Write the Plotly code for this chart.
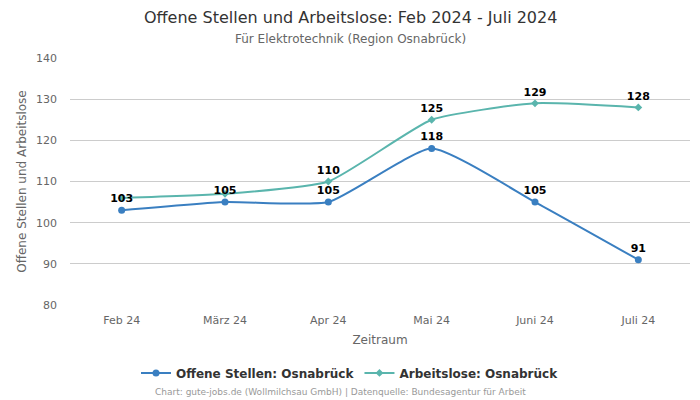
import plotly.graph_objects as go

categories = ["Feb 24", "März 24", "Apr 24", "Mai 24", "Juni 24", "Juli 24"]
offene_stellen = [103, 105, 105, 118, 105, 91]
arbeitslose = [106, 107, 110, 125, 129, 128]
offene_labels = ["103", "105", "105", "118", "105", "91"]
arbeitslose_labels = ["", "", "110", "125", "129", "128"]

# The page body has an 8px margin; figure is sized/positioned to compensate.
fig = go.Figure()
fig.add_trace(go.Scatter(
    x=categories, y=arbeitslose, name="Arbeitslose: Osnabrück",
    mode="lines+markers+text", text=arbeitslose_labels, textposition="top center",
    textfont=dict(family="DejaVu Sans", size=11, color="#000000", weight="bold"),
    line=dict(color="#5ab5ad", width=2, shape="spline", smoothing=0.5),
    marker=dict(symbol="diamond", size=6, color="#5ab5ad"),
    cliponaxis=False,
))
fig.add_trace(go.Scatter(
    x=categories, y=offene_stellen, name="Offene Stellen: Osnabrück",
    mode="lines+markers+text", text=offene_labels, textposition="top center",
    textfont=dict(family="DejaVu Sans", size=11, color="#000000", weight="bold"),
    line=dict(color="#3a7fc1", width=2, shape="spline", smoothing=0.5),
    marker=dict(symbol="circle", size=7, color="#3a7fc1"),
    cliponaxis=False,
))

cx = (350 - 70) / 620

fig.update_layout(
    width=692, height=392,
    margin=dict(l=62, r=10, t=50, b=95),
    paper_bgcolor="white", plot_bgcolor="white",
    font=dict(family="DejaVu Sans", color="#666666"),
    xaxis=dict(
        title=dict(text="Zeitraum", font=dict(size=12, color="#666666"), standoff=9),
        range=[-0.5, 5.5], automargin=False,
        showgrid=False, showline=False, ticks="",
        tickfont=dict(size=11, color="#666666"), ticklabelstandoff=7,
    ),
    yaxis=dict(
        title=dict(text="Offene Stellen und Arbeitslose", font=dict(size=12, color="#666666"), standoff=6),
        range=[80, 140], dtick=10, showgrid=True, gridcolor="#cccccc",
        automargin=False,
        zeroline=False, tickfont=dict(size=11, color="#666666"), ticks="", ticklabelstandoff=12,
    ),
    legend=dict(
        orientation="h", x=cx, xanchor="center", y=-0.275, yanchor="middle",
        font=dict(size=12, color="#333333", weight="bold"),
        traceorder="reversed",
    ),
    annotations=[
        dict(text="Offene Stellen und Arbeitslose: Feb 2024 - Juli 2024",
             xref="paper", yref="paper", x=cx, y=(305 - 17) / 247, xanchor="center", yanchor="middle",
             showarrow=False, font=dict(size=16, color="#333333")),
        dict(text="Für Elektrotechnik (Region Osnabrück)",
             xref="paper", yref="paper", x=cx, y=(305 - 39) / 247, xanchor="center", yanchor="middle",
             showarrow=False, font=dict(size=12, color="#666666")),
        dict(text="Chart: gute-jobs.de (Wollmilchsau GmbH) | Datenquelle: Bundesagentur für Arbeit",
             xref="paper", yref="paper", x=(340 - 70) / 620, y=(305 - 392) / 247, yanchor="middle", xanchor="center",
             showarrow=False, font=dict(size=9, color="#999999")),
    ],
)

fig.write_html("out.html")
